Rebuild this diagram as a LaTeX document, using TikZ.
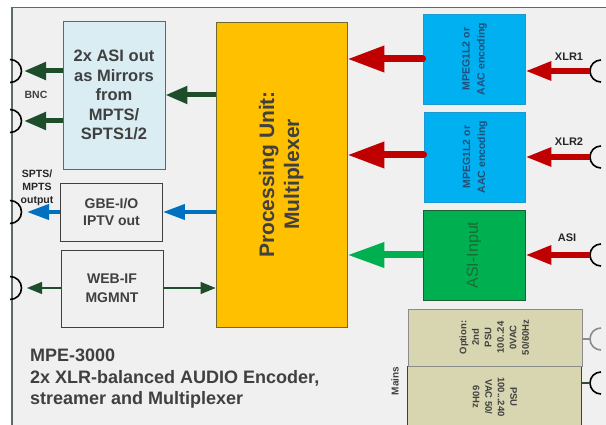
\documentclass[tikz,border=0pt]{standalone}
\usepackage{fontspec}
\setmainfont{Liberation Sans}
\usepackage{graphicx}
\usetikzlibrary{arrows.meta,calc}
\definecolor{framebg}{HTML}{F0F0F0}
\definecolor{framecol}{HTML}{5B6E62}
\definecolor{ltblue}{HTML}{D9EDF2}
\definecolor{ltblueb}{HTML}{4F6F6F}
\definecolor{procfill}{HTML}{FFC000}
\definecolor{procb}{HTML}{6F6A2A}
\definecolor{encfill}{HTML}{00B0F0}
\definecolor{encb}{HTML}{1C9AD0}
\definecolor{enctxt}{HTML}{1F4E79}
\definecolor{asifill}{HTML}{00B050}
\definecolor{asib}{HTML}{1E5E32}
\definecolor{asitxt}{HTML}{1B6B35}
\definecolor{tanfill}{HTML}{D7D6B0}
\definecolor{optb}{HTML}{8C8C8C}
\definecolor{psub}{HTML}{2E4A30}
\definecolor{txtgray}{HTML}{404040}
\definecolor{dkgreen}{HTML}{1E4D2B}
\definecolor{arrblue}{HTML}{0070C0}
\definecolor{arrred}{HTML}{C00000}
\definecolor{arrgreen}{HTML}{00B050}
\newcommand{\vstack}[2]{\rotatebox{#1}{\begin{tabular}{@{}c@{}}#2\end{tabular}}}
\begin{document}
\begin{tikzpicture}[x=1pt,y=-1pt,
  box/.style={draw, line width=0.9pt, inner sep=0pt, text=txtgray},
  conn/.style={line width=1.6pt, draw=black},
  bigred/.style={draw=arrred, line width=7pt, line cap=round, -{Triangle[length=37pt,width=25pt]}},
  smallred/.style={draw=arrred, line width=6pt, -{Triangle[length=26pt,width=18pt]}},
  biggreen/.style={draw=arrgreen, line width=7pt, -{Triangle[length=37pt,width=24pt]}},
  dkarrow/.style={draw=dkgreen, line width=5pt, -{Triangle[length=22pt,width=17pt]}},
  bluearrow/.style={draw=arrblue, line width=4pt, -{Triangle[length=22pt,width=15pt]}},
  thinarrow/.style={draw=dkgreen, line width=1.2pt, -{Triangle[length=15pt,width=12pt]}},
  lbl/.style={inner sep=0pt, font=\fontsize{11}{13}\selectfont\bfseries, text=black!85}
]
\useasboundingbox (0,0) rectangle (606,425);
\fill[white] (0,0) rectangle (606,425);
\fill[framebg] (12,7.5) rectangle (620,440);
\draw[framecol, line width=1.2pt] (620,7.5) -- (12,7.5) -- (12,440);

% boxes
\node[box, align=center, fill=ltblue, draw=ltblueb, minimum width=102pt, minimum height=148pt,
  font=\fontsize{16.5}{19.5}\selectfont\bfseries] (asiout) at (114,95) {2x ASI out\\as Mirrors\\from\\MPTS/\\SPTS1/2};
\node[box, fill=procfill, draw=procb, minimum width=131pt, minimum height=305pt,
  font=\fontsize{21}{25}\selectfont\bfseries] (proc) at (281.5,174.5) {\vstack{90}{Processing Unit:\\Multiplexer}};
\node[box, fill=encfill, draw=encb, minimum width=102pt, minimum height=90pt, text=enctxt,
  font=\fontsize{10.5}{15}\selectfont\bfseries] (enc1) at (474,59) {\vstack{90}{MPEG1L2 or\\AAC encoding}};
\node[box, fill=encfill, draw=encb, minimum width=101pt, minimum height=90pt, text=enctxt,
  font=\fontsize{10.5}{15}\selectfont\bfseries] (enc2) at (474.5,157) {\vstack{90}{MPEG1L2 or\\AAC encoding}};
\node[box, fill=asifill, draw=asib, minimum width=102pt, minimum height=90pt, text=asitxt,
  font=\fontsize{16}{19}\selectfont] (asiin) at (474,255) {\vstack{90}{ASI-Input}};
\node[box, fill=tanfill, draw=psub, minimum width=174pt, minimum height=62pt,
  font=\fontsize{9.5}{12.5}\selectfont\bfseries] (psu) at (494,397) {\vstack{-90}{PSU\\100...240\\VAC 50/\\60Hz}};
\node[box, fill=tanfill, draw=optb, minimum width=174pt, minimum height=57pt,
  font=\fontsize{9.5}{12.5}\selectfont\bfseries] (opt) at (495,337.5) {\vstack{90}{Option:\\2nd\\PSU\\100..24\\0VAC\\50/60Hz}};
\node[box, align=center, fill=framebg, draw=txtgray, minimum width=102pt, minimum height=58pt,
  font=\fontsize{14}{17.5}\selectfont\bfseries] (gbe) at (111.5,212) {GBE-I/O\\IPTV out};
\node[box, align=center, fill=framebg, draw=txtgray, minimum width=102pt, minimum height=77pt,
  font=\fontsize{14}{19}\selectfont\bfseries] (web) at (112,288.5) {WEB-IF\\MGMNT};

% connectors
\coordinate (cL1) at (10,71);
\coordinate (cL2) at (10,121);
\coordinate (cL3) at (10,212);
\coordinate (cL4) at (10,288);
\coordinate (cR1) at (601,71);
\coordinate (cR2) at (601,157);
\coordinate (cR3) at (601,255);
\coordinate (cR4) at (601,339);
\coordinate (cR5) at (601,383);
\foreach \c in {cL1,cL2,cL3,cL4}{\draw[conn] (\c) ++(0,-11.5) arc (90:-90:11.5pt);}
\foreach \c in {cR1,cR2,cR3,cR5}{\draw[conn] (\c) ++(0,-11) arc (90:270:11pt);}
\draw[conn, draw=optb] (cR4) ++(0,-11) arc (90:270:11pt);

% arrow end points
\coordinate (tL1) at (24,71);
\coordinate (tL2) at (24,121);
\coordinate (tL3) at (27,212);
\coordinate (tL4) at (27,288);
\coordinate (sR1) at (590,71);
\coordinate (sR2) at (590,157);
\coordinate (sR3) at (590,255);
\coordinate (sR4) at (590,339);
\coordinate (sR5) at (590,383);

% arrows right side
\draw[bigred] (enc1.west |- 0,59) -- (proc.east |- 0,59);
\draw[bigred] (enc2.west |- 0,155) -- (proc.east |- 0,155);
\draw[biggreen] (asiin.west |- cR3) -- (proc.east |- cR3);
\draw[smallred] (sR1) -- (enc1.east |- sR1);
\draw[smallred] (sR2) -- (enc2.east |- sR2);
\draw[smallred] (sR3) -- (asiin.east |- sR3);
\draw[optb, line width=1.6pt] (opt.east |- sR4) -- (sR4);
\draw[psub, line width=1.6pt] (psu.east |- sR5) -- (sR5);

% arrows left side
\draw[dkarrow] (proc.west |- 0,95) -- (asiout.east |- 0,95);
\draw[dkarrow] (asiout.west |- cL1) -- (tL1);
\draw[dkarrow] (asiout.west |- cL2) -- (tL2);
\draw[bluearrow] (proc.west |- cL3) -- (gbe.east |- cL3);
\draw[bluearrow] (gbe.west |- cL3) -- (tL3);
\draw[thinarrow] (web.west |- cL4) -- (tL4);
\draw[thinarrow] (web.east |- cL4) -- (proc.west |- cL4);

% labels
\node[lbl, font=\fontsize{10.5}{13}\selectfont\bfseries, text=txtgray] (bnc) at (36,95) {BNC};
\node[lbl, align=center, font=\fontsize{10.5}{13}\selectfont\bfseries] (spts) at (37,188) {SPTS/\\MPTS\\output};
\node[lbl] (xlr1) at (569,57) {XLR1};
\node[lbl] (xlr2) at (569,142) {XLR2};
\node[lbl] (asil) at (567,238) {ASI};
\node[lbl, rotate=90, font=\fontsize{10}{12}\selectfont\bfseries, text=txtgray] (mains) at (395,381) {Mains};
\node[anchor=north west, align=left, inner sep=0pt, text=txtgray,
  font=\fontsize{18}{21.5}\selectfont\bfseries] (title) at (30,349) {MPE-3000\\2x XLR-balanced AUDIO Encoder,\\streamer and Multiplexer};
\end{tikzpicture}
\end{document}
